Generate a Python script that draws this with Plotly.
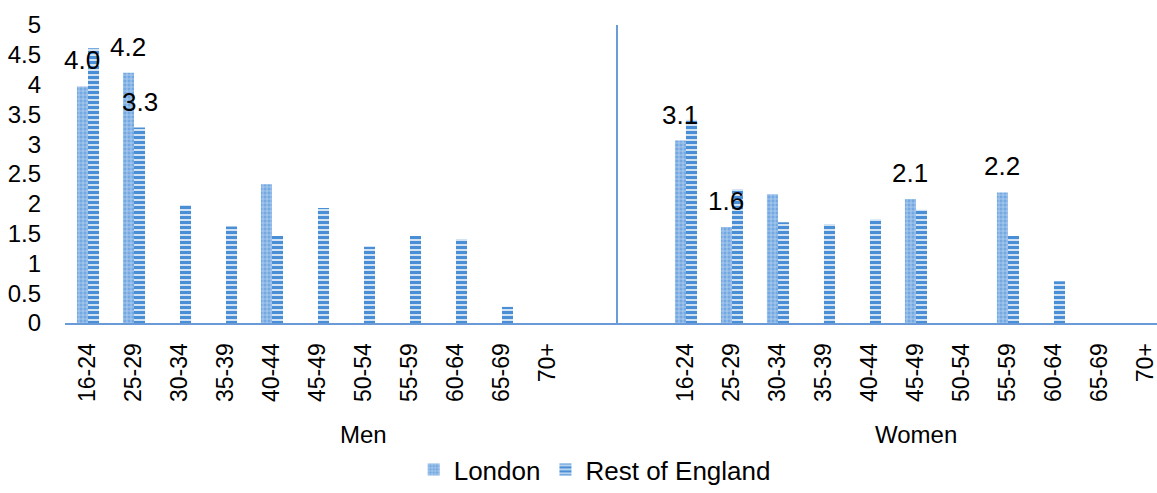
import plotly.graph_objects as go

ages = ["16-24", "25-29", "30-34", "35-39", "40-44", "45-49",
        "50-54", "55-59", "60-64", "65-69", "70+"]
groups = ["Men", "Women"]

men_london = [3.97, 4.20, 0, 0, 2.33, 0, 0, 0, 0, 0, 0]
men_rest = [4.61, 3.28, 1.98, 1.62, 1.46, 1.93, 1.28, 1.46, 1.41, 0.27, 0]
women_london = [3.06, 1.61, 2.16, 0, 0, 2.08, 0, 2.19, 0, 0, 0]
women_rest = [3.41, 2.25, 1.69, 1.66, 1.74, 1.90, 0, 1.46, 0.70, 0, 0]

# (group, series, age) of bars that carry a data label
labelled = [("Men", "London", "16-24"), ("Men", "London", "25-29"),
            ("Men", "Rest of England", "25-29"),
            ("Women", "London", "16-24"), ("Women", "London", "25-29"),
            ("Women", "London", "45-49"), ("Women", "London", "55-59")]

FONT = "Liberation Sans, Arial, sans-serif"
BLUE = "#5b9bd5"
AXIS = "#6a9bd8"

# category slots: Men 0..10, blank 11, blank 12, Women 13..23
men_x = list(range(len(ages)))
women_x = [len(ages) + 2 + i for i in range(len(ages))]
xs = men_x + women_x
tick_text = ages + ages

london = men_london + women_london
rest = men_rest + women_rest

fig = go.Figure()
fig.add_trace(go.Bar(
    x=xs, y=london, name="London",
    marker=dict(color=BLUE, line=dict(width=0),
                pattern=dict(shape="+", fgcolor="#c2daf3", bgcolor="#74a8e1",
                             size=4, solidity=0.3, fgopacity=1)),
))
fig.add_trace(go.Bar(
    x=xs, y=rest, name="Rest of England",
    marker=dict(color=BLUE, line=dict(width=0),
                pattern=dict(shape="-", fgcolor="#4a8fd6", bgcolor="white",
                             size=5, solidity=0.7, fgopacity=1)),
))

series_vals = {"London": {"Men": men_london, "Women": women_london},
               "Rest of England": {"Men": men_rest, "Women": women_rest}}
group_x = {"Men": men_x, "Women": women_x}
bar_half = 0.12
annotations = []
for g, s, a in labelled:
    i = ages.index(a)
    v = series_vals[s][g][i]
    off = -bar_half if s == "London" else bar_half
    annotations.append(dict(
        x=group_x[g][i] + off, y=v, xref="x", yref="y",
        text=f"{v:.1f}", showarrow=False, yanchor="middle", yshift=26,
        font=dict(family=FONT, size=26, color="black")))

for g, cx in zip(groups, [6.0, 18.0]):
    annotations.append(dict(
        x=cx, y=-0.375, xref="x", yref="paper", text=g, showarrow=False,
        xanchor="center", yanchor="middle",
        font=dict(family=FONT, size=24, color="black")))

boundaries = [i - 0.5 for i in range(1, 24)]

fig.update_layout(
    width=1157, height=493,
    margin=dict(l=65, r=0, t=25, b=170, autoexpand=False),
    paper_bgcolor="white", plot_bgcolor="white",
    barmode="group", bargap=0.52, bargroupgap=0,
    font=dict(family=FONT, size=23, color="black"),
    showlegend=True,
    legend=dict(orientation="h", xref="container", yref="container",
                x=0.514, xanchor="center", y=0.0, yanchor="bottom",
                font=dict(family=FONT, size=26, color="black"),
                itemsizing="constant", traceorder="normal"),
    annotations=annotations,
    shapes=[dict(type="line", xref="x", yref="y", x0=11.5, x1=11.5, y0=0, y1=5,
                 line=dict(color=AXIS, width=2))],
    xaxis=dict(
        range=[-0.5, 23.24], tickmode="array", tickvals=xs, ticktext=tick_text,
        tickangle=-90, ticks="", ticklabelstandoff=9, automargin=False,
        ticklabeloverflow="allow",
        tickfont=dict(family=FONT, size=23, color="black"),
        showline=True, linecolor=AXIS, linewidth=2, showgrid=False,
        zeroline=False,
        minor=dict(tickmode="array", tickvals=boundaries, ticks="inside",
                   ticklen=3, tickwidth=2, tickcolor="white", showgrid=False),
    ),
    yaxis=dict(
        range=[0, 5], tickmode="linear", tick0=0, dtick=0.5,
        showgrid=False, zeroline=False, showline=False, ticks="",
        ticklabelstandoff=23, automargin=False,
        tickfont=dict(family=FONT, size=24, color="black"),
    ),
)

fig.write_html("out.html",
               config={"displayModeBar": False},
               post_script="document.body.style.margin='0px';"
                           "document.body.style.overflow='hidden';")
